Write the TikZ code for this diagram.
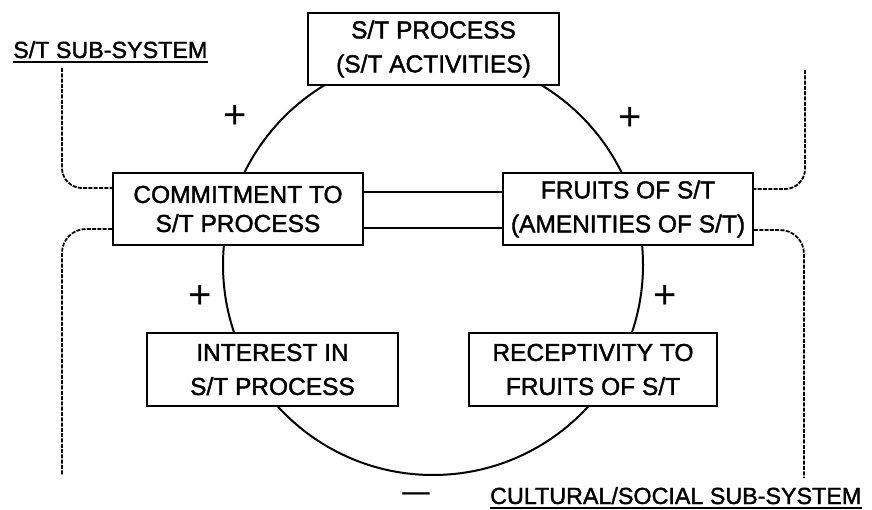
\documentclass[tikz,border=0pt]{standalone}
\usepackage{fontspec}
\setmainfont{Liberation Sans}[RawFeature={embolden=1.6}]
\newfontfamily\signfont{Liberation Sans}
\begin{document}
\begin{tikzpicture}[x=1pt,y=-1pt,
  box/.style={draw, line width=2pt, fill=white, inner sep=0pt, align=center,
              font=\fontsize{24.5}{34}\selectfont},
  sub/.style={dash pattern=on 4pt off 1.3pt, line width=1.8pt},
  sign/.style={font=\signfont\fontsize{40}{40}\selectfont, inner sep=0pt},
  lab/.style={font=\fontsize{23.3}{28}\selectfont, inner sep=0pt},
  ul/.style={line width=1.8pt},
  link/.style={line width=1.3pt}]
\useasboundingbox (0,0) rectangle (872,510);
% loop
\node[circle, draw, line width=2pt, minimum size=420pt, inner sep=0pt] (loop) at (433,265) {};
% boxes
\node[box, minimum width=251pt, minimum height=72pt] (proc) at (433.5,49) {S/T PROCESS\\(S/T ACTIVITIES)};
\node[box, minimum width=250pt, minimum height=72pt, font=\fontsize{24.5}{29}\selectfont] (commit) at (238,209) {COMMITMENT TO\\S/T PROCESS};
\node[box, minimum width=250pt, minimum height=72pt] (fruits) at (628,209) {FRUITS OF S/T\\(AMENITIES OF S/T)};
\node[box, minimum width=251pt, minimum height=73pt] (interest) at (272.5,369.5) {INTEREST IN\\S/T PROCESS};
\node[box, minimum width=248pt, minimum height=73pt] (recept) at (593,369.5) {RECEPTIVITY TO\\FRUITS OF S/T};
% links between commitment and fruits
\draw[link] ([yshift=17pt]commit.east) -- ([yshift=17pt]fruits.west);
\draw[link] ([yshift=-19pt]commit.east) -- ([yshift=-19pt]fruits.west);
% sub-system labels
\node[lab, anchor=base west] (sts) at (13,58) {S/T SUB-SYSTEM};
\draw[ul] ([yshift=-4pt]sts.base west) -- ([yshift=-4pt]sts.base east);
\node[lab, anchor=base west] (css) at (490,504) {CULTURAL/SOCIAL SUB-SYSTEM};
\draw[ul] ([yshift=-4pt]css.base west) -- ([yshift=-4pt]css.base east);
% dashed boundaries
\coordinate (lt) at (62,68);
\coordinate (lb) at (62,475);
\coordinate (rt) at (805,70);
\coordinate (rb) at (804,478);
\draw[sub, rounded corners=20pt] (lt) -- (62,188) -- ([yshift=21pt]commit.west);
\draw[sub, rounded corners=24pt] ([yshift=-20pt]commit.west) -- (62,229) -- (lb);
\draw[sub, rounded corners=20pt] (rt) -- (805,189) -- ([yshift=20pt]fruits.east);
\draw[sub, rounded corners=24pt] ([yshift=-21pt]fruits.east) -- (804,230) -- (rb);
% signs
\node[sign] (s1) at (235,117) {+};
\node[sign] (s2) at (630,119) {+};
\node[sign] (s3) at (200,297) {+};
\node[sign] (s4) at (665,297) {+};
\node[sign, anchor=base, font=\signfont\fontsize{34}{34}\selectfont] (s5) at (416,502) {\scalebox{1.45}[1]{–}};
\end{tikzpicture}
\end{document}
